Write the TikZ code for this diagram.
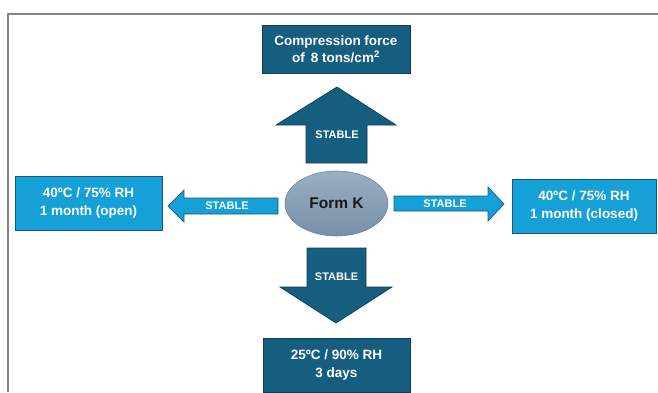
\documentclass[tikz,border=0pt]{standalone}
\usepackage{fontspec}
\setmainfont{Liberation Sans}
\usetikzlibrary{shapes.geometric}
\definecolor{darkteal}{HTML}{165E80}
\definecolor{darkedge}{HTML}{0E3D55}
\definecolor{lightblue}{HTML}{16A0D8}
\definecolor{lightedge}{HTML}{1A5878}
\definecolor{framegray}{HTML}{858585}
\definecolor{elltop}{HTML}{9AAFC2}
\definecolor{ellbot}{HTML}{7690A8}
\definecolor{elledge}{HTML}{6A869F}
\begin{document}
\begin{tikzpicture}[x=1pt,y=-1pt,
  boxtext/.style={text=white, font=\bfseries\fontsize{13.5}{17.5}\selectfont, align=center, inner sep=0pt},
  darkbox/.style={boxtext, draw=darkedge, fill=darkteal, line width=0.8pt},
  lightbox/.style={boxtext, draw=lightedge, fill=lightblue, line width=0.8pt},
  darkarrow/.style={draw=darkedge, fill=darkteal, line width=0.7pt, line join=miter},
  lightarrow/.style={draw=lightedge, fill=lightblue, line width=0.7pt, line join=miter},
  stabletext/.style={text=white, font=\bfseries\fontsize{11}{13}\selectfont, inner sep=0pt}
]
\clip (0,0) rectangle (658,392);
\fill[white] (0,0) rectangle (658,392);
\draw[framegray, line width=1.6pt] (8,392) -- (8,14) -- (658,14);

% boxes
\node[darkbox, minimum width=148pt, minimum height=48pt] (top) at (336,49)
  {Compression force\\of\, 8 tons/cm\textsuperscript{2}};
\node[lightbox, minimum width=147pt, minimum height=54pt] (left) at (88.5,203)
  {40ºC / 75\% RH\\1 month (open)};
\node[lightbox, minimum width=144pt, minimum height=54pt] (right) at (584,206)
  {40ºC / 75\% RH\\1 month (closed)};
\node[darkbox, minimum width=147pt, minimum height=54pt] (bottom) at (336.5,365)
  {25ºC / 90\% RH\\3 days};

% central ellipse
\node[ellipse, draw=elledge, line width=0.6pt, top color=elltop, bottom color=ellbot,
  minimum width=103pt, minimum height=65pt, inner sep=0pt,
  font=\bfseries\fontsize{15.5}{18}\selectfont, text=black!90] (formk) at (336.5,203.5) {Form K};

% block arrows
\draw[darkarrow] (306,163) -- (306,125) -- (276,125) -- (337,87) -- (396,125)
  -- (367,125) -- (367,163) -- cycle;
\draw[darkarrow] (307,248) -- (366,248) -- (366,287) -- (392,287) -- (336,323)
  -- (280,287) -- (307,287) -- cycle;
\draw[lightarrow] (278,198) -- (184,198) -- (184,190) -- (168,206) -- (184,222)
  -- (184,214) -- (278,214) -- cycle;
\draw[lightarrow] (394,196) -- (488,196) -- (488,187) -- (504,204) -- (488,221)
  -- (488,211) -- (394,211) -- cycle;

% labels on arrows
\node[stabletext] (sup) at (337,135) {STABLE};
\node[stabletext] (sdown) at (336.5,277) {STABLE};
\node[stabletext] (sleft) at (227,206) {STABLE};
\node[stabletext] (sright) at (445,203.5) {STABLE};
\end{tikzpicture}
\end{document}
